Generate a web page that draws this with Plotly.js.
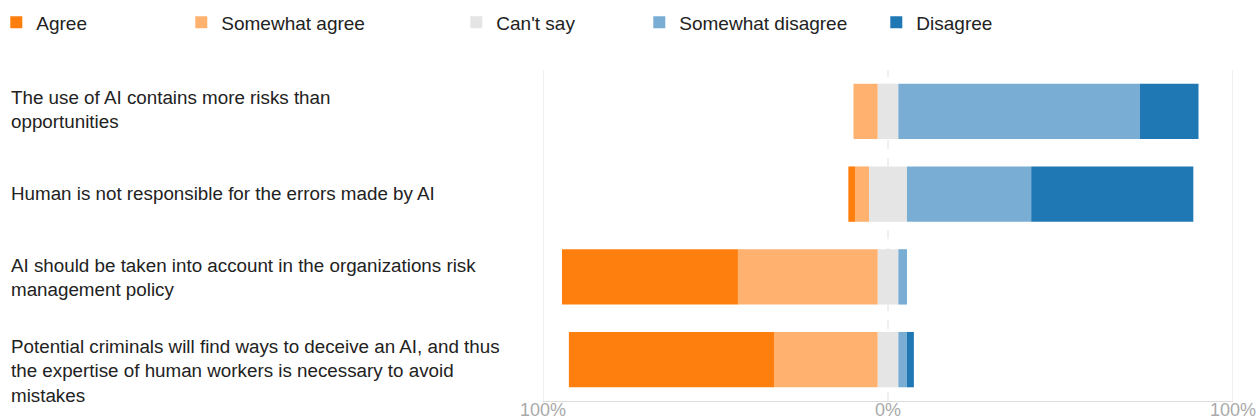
<!DOCTYPE html>
<html>
<head>
<meta charset="utf-8">
<script src="https://cdn.plot.ly/plotly-3.0.1.min.js"></script>
<style>
  html, body { margin: 0; padding: 0; background: #fff; }
  #chart { width: 1257px; height: 419px; }
</style>
</head>
<body>
<div id="chart"></div>
<script>
// Survey statements (top to bottom)
const statements = [
  'The use of AI contains more risks than<br>opportunities',
  'Human is not responsible for the errors made by AI',
  'AI should be taken into account in the organizations risk<br>management policy',
  'Potential criminals will find ways to deceive an AI, and thus<br>the expertise of human workers is necessary to avoid<br>mistakes'
];

// Share of answers, percent
const agree            = [0, 2, 51, 59.5];
const somewhatAgree    = [7, 4, 40.5, 30];
const cantSay          = [6, 11, 6, 6];
const somewhatDisagree = [70, 36, 2.5, 2.5];
const disagree         = [17, 47, 0, 2];

const tickValues = [-100, 0, 100];
const tickLabels = ['100%', '0%', '100%'];

const colors = {
  agree: '#ff7f0e',
  somewhatAgree: '#ffb26f',
  cantSay: '#e5e5e5',
  somewhatDisagree: '#7aadd3',
  disagree: '#1f77b4'
};

const FONT = 'Liberation Sans, Arial, sans-serif';

// Agreement grows to the left, disagreement to the right;
// "Can't say" is split evenly across zero.
function bar(name, values, sign, color, legendId, show) {
  return {
    type: 'bar',
    orientation: 'h',
    name: name,
    y: statements,
    x: values.map(v => sign * v),
    customdata: values,
    marker: { color: color, line: { width: 0 } },
    legend: legendId,
    legendgroup: name,
    showlegend: show,
    hovertemplate: name + ': %{customdata}%<extra></extra>'
  };
}

const traces = [
  bar("Can't say", cantSay.map(v => v / 2), -1, colors.cantSay, 'legend3', false),
  bar("Can't say", cantSay.map(v => v / 2), 1, colors.cantSay, 'legend3', true),
  bar('Somewhat agree', somewhatAgree, -1, colors.somewhatAgree, 'legend2', true),
  bar('Somewhat disagree', somewhatDisagree, 1, colors.somewhatDisagree, 'legend4', true),
  bar('Agree', agree, -1, colors.agree, 'legend', true),
  bar('Disagree', disagree, 1, colors.disagree, 'legend5', true)
];
// hover for the split "Can't say" shows the full share
traces[0].customdata = cantSay;
traces[1].customdata = cantSay;

const plotLeft = 542.7, plotWidth = 690;
const toPaperX = px => (px - plotLeft) / plotWidth;

function legendAt(px) {
  return {
    x: toPaperX(px), xanchor: 'left',
    y: 1.144, yanchor: 'middle',
    orientation: 'h',
    bgcolor: 'rgba(0,0,0,0)',
    font: { family: FONT, size: 19, color: '#222' }
  };
}

// vertical nudge of each statement label, px (positive = up)
const labelShift = [2, 1, -1, -11];

const layout = {
  width: 1257,
  height: 419,
  margin: { l: 542.7, r: 24.3, t: 69.7, b: 17.5, autoexpand: false },
  paper_bgcolor: '#fff',
  plot_bgcolor: '#fff',
  font: { family: FONT, color: '#222' },
  barmode: 'relative',
  bargap: 0.331,
  xaxis: {
    range: [-100, 100],
    tickvals: tickValues,
    ticktext: tickLabels,
    showgrid: false,
    zeroline: false,
    showline: true,
    linecolor: '#dcdcdc',
    linewidth: 1,
    ticks: '',
    ticklabelstandoff: -8,
    tickfont: { family: FONT, size: 18, color: '#aaaaaa' },
    fixedrange: true
  },
  yaxis: {
    type: 'category',
    autorange: false,
    range: [statements.length - 0.5, -0.5],
    showticklabels: false,
    showgrid: false,
    zeroline: false,
    ticks: '',
    fixedrange: true
  },
  shapes: tickValues.map(v => ({
    type: 'line', layer: 'below',
    xref: 'x', yref: 'paper',
    x0: v, x1: v, y0: 0, y1: 1,
    line: { color: '#e0e0e0', width: 1, dash: v === 0 ? 'dash' : 'solid' }
  })),
  annotations: statements.map((s, i) => ({
    text: s,
    xref: 'paper', yref: 'y',
    x: toPaperX(9), y: i,
    xanchor: 'left', align: 'left',
    yshift: labelShift[i],
    showarrow: false,
    font: { family: FONT, size: 18.8, color: '#222' }
  })),
  legend: legendAt(-4),
  legend2: legendAt(181),
  legend3: legendAt(456),
  legend4: legendAt(639),
  legend5: legendAt(876),
  hovermode: 'closest'
};

Plotly.newPlot('chart', traces, layout, { displayModeBar: false });
</script>
</body>
</html>
